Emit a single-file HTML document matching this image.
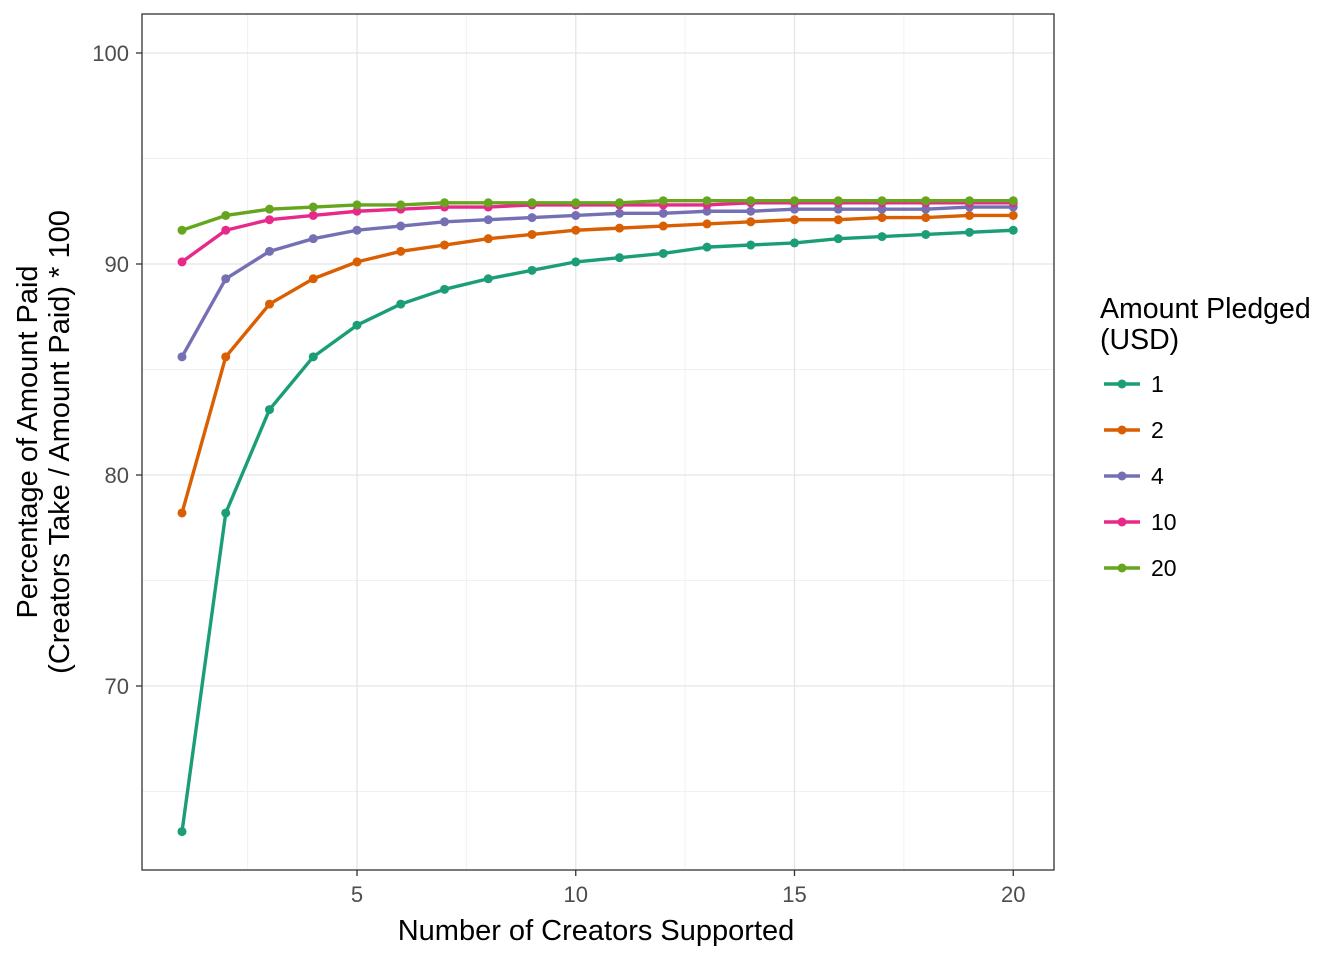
<!DOCTYPE html>
<html><head><meta charset="utf-8"><style>
body{margin:0;background:#fff;}
svg text{font-family:"Liberation Sans",Arial,sans-serif;}
</style></head><body>
<svg id="chart" width="1344" height="960" xmlns="http://www.w3.org/2000/svg">
<rect x="0" y="0" width="1344" height="960" fill="#fff"/>
<g id="grid"></g>
<g id="series"></g>
<rect x="142" y="14" width="912" height="856" fill="none" stroke="#333" stroke-width="1.3"/>
<g id="axes"></g>
<text x="596" y="940" font-size="29" text-anchor="middle" fill="#000">Number of Creators Supported</text>
<text transform="translate(37,442) rotate(-90)" font-size="29" text-anchor="middle" fill="#000"><tspan x="0" dy="0">Percentage of Amount Paid</tspan><tspan x="0" dy="32">(Creators Take / Amount Paid) * 100</tspan></text>
<g id="legend">
<text x="1100" y="318" font-size="28.5" fill="#000">Amount Pledged</text>
<text x="1100" y="349" font-size="28.5" fill="#000">(USD)</text>
</g>
</svg>
<script>
const xs = [1,2,3,4,5,6,7,8,9,10,11,12,13,14,15,16,17,18,19,20];
const seriesNames = ["1","2","4","10","20"];
const s1 = [63.1,78.2,83.1,85.6,87.1,88.1,88.8,89.3,89.7,90.1,90.3,90.5,90.8,90.9,91.0,91.2,91.3,91.4,91.5,91.6];
const s2 = [78.2,85.6,88.1,89.3,90.1,90.6,90.9,91.2,91.4,91.6,91.7,91.8,91.9,92.0,92.1,92.1,92.2,92.2,92.3,92.3];
const s4 = [85.6,89.3,90.6,91.2,91.6,91.8,92.0,92.1,92.2,92.3,92.4,92.4,92.5,92.5,92.6,92.6,92.6,92.6,92.7,92.7];
const s10 = [90.1,91.6,92.1,92.3,92.5,92.6,92.7,92.7,92.8,92.8,92.8,92.8,92.8,92.9,92.9,92.9,92.9,92.9,92.9,92.9];
const s20 = [91.6,92.3,92.6,92.7,92.8,92.8,92.9,92.9,92.9,92.9,92.9,93.0,93.0,93.0,93.0,93.0,93.0,93.0,93.0,93.0];
const xTicks = [5,10,15,20];
const yTicks = [70,80,90,100];
const xMinor = [2.5,7.5,12.5,17.5];
const yMinor = [65,75,85,95];
const colors = ["#1B9E77","#D95F02","#7570B3","#E7298A","#66A61E"];
const allSeries = [s1,s2,s4,s10,s20];
const NS="http://www.w3.org/2000/svg";
const X = v => 357 + (v-5)*43.75;
const Y = v => 264 - (v-90)*21.1;
function mk(tag, attrs, parent){const e=document.createElementNS(NS,tag);for(const k in attrs)e.setAttribute(k,attrs[k]);parent.appendChild(e);return e;}
const grid=document.getElementById('grid'), axes=document.getElementById('axes'), ser=document.getElementById('series'), leg=document.getElementById('legend');
xMinor.forEach(v=>{const l=mk('line',{x1:X(v),x2:X(v),y1:14,y2:870,stroke:'#f0f0f0','stroke-width':1},grid);

});
yMinor.forEach(v=>{const l=mk('line',{x1:142,x2:1054,y1:Y(v),y2:Y(v),stroke:'#f0f0f0','stroke-width':1},grid);

});
xTicks.forEach(v=>{const l=mk('line',{x1:X(v),x2:X(v),y1:14,y2:870,stroke:'#e5e5e5','stroke-width':1.3},grid);


const t=mk('line',{x1:X(v),x2:X(v),y1:870,y2:876,stroke:'#333','stroke-width':1.3},axes);


const tx=mk('text',{x:X(v),y:902,'font-size':22,'text-anchor':'middle',fill:'#4d4d4d'},axes);tx.textContent=v;

});
yTicks.forEach(v=>{const l=mk('line',{x1:142,x2:1054,y1:Y(v),y2:Y(v),stroke:'#e5e5e5','stroke-width':1.3},grid);


const t=mk('line',{x1:136,x2:142,y1:Y(v),y2:Y(v),stroke:'#333','stroke-width':1.3},axes);


const tx=mk('text',{x:129,y:Y(v)+8,'font-size':22,'text-anchor':'end',fill:'#4d4d4d'},axes);tx.textContent=v;

});
allSeries.forEach((s,i)=>{
 const g=mk('g',{},ser);
 
 
 const pl=mk('polyline',{points:s.map((v,j)=>X(xs[j])+','+Y(v)).join(' '),fill:'none',stroke:colors[i],'stroke-width':3.4,'stroke-linejoin':'round'},g);
 
 
 s.forEach((v,j)=>{const c=mk('circle',{cx:X(xs[j]),cy:Y(v),r:4.5,fill:colors[i]},g);
 
 });
 const ly=384+i*46;
 const ll=mk('line',{x1:1104,x2:1140,y1:ly,y2:ly,stroke:colors[i],'stroke-width':3.4},leg);
 
 
 const lc=mk('circle',{cx:1122,cy:ly,r:4.5,fill:colors[i]},leg);
 
 
 const lt=mk('text',{x:1151,y:ly+8,'font-size':23,fill:'#000'},leg);lt.textContent=seriesNames[i];
 
 
});
</script>
</body></html>
